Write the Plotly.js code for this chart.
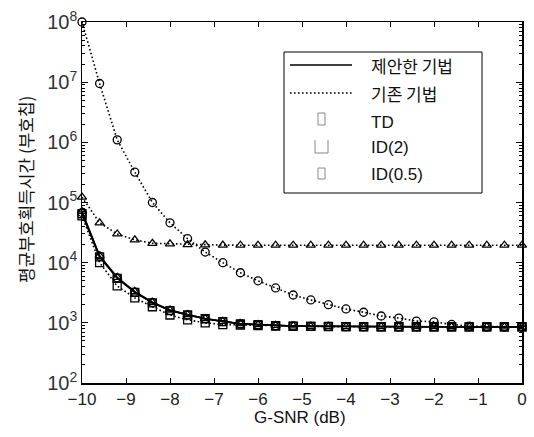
<!DOCTYPE html>
<html>
<head>
<meta charset="utf-8">
<script src="https://cdn.plot.ly/plotly-3.0.1.min.js"></script>
<style>html,body{margin:0;padding:0;background:#fff;}#chart{width:534px;height:437px;}</style>
</head>
<body>
<div id="chart"></div>
<script>
// G-SNR (dB)
const snr = [-10, -9.6, -9.2, -8.8, -8.4, -8.0, -7.6, -7.2, -6.8, -6.4, -6.0, -5.6, -5.2,
             -4.8, -4.4, -4.0, -3.6, -3.2, -2.8, -2.4, -2.0, -1.6, -1.2, -0.8, -0.4, 0];

// 제안한 기법 (proposed, solid)
const propTD   = [6.5e4, 1.25e4, 5.5e3, 3.2e3, 2.15e3, 1.6e3, 1.35e3, 1.17e3, 1.05e3, 960, 930, 900, 885,
                  875, 870, 865, 862, 860, 860, 860, 860, 860, 858, 858, 856, 855];
const propID2  = [7.1e4, 1.3e4, 5.7e3, 3.3e3, 2.2e3, 1.63e3, 1.37e3, 1.18e3, 1.06e3, 970, 935, 905, 888,
                  878, 872, 868, 864, 862, 862, 862, 862, 860, 860, 858, 858, 856];
const propID05 = [6.8e4, 1.28e4, 5.6e3, 3.25e3, 2.18e3, 1.61e3, 1.36e3, 1.17e3, 1.05e3, 965, 932, 902, 886,
                  876, 870, 866, 863, 861, 861, 861, 861, 860, 859, 858, 857, 856];

// 기존 기법 (conventional, dotted)
const convTD   = [6.0e4, 1.0e4, 4.1e3, 2.6e3, 1.85e3, 1.35e3, 1.12e3, 1.0e3, 935, 920, 900, 885, 875,
                  870, 866, 863, 861, 860, 860, 860, 860, 860, 858, 858, 856, 855];
const convID2  = [1.23e5, 4.6e4, 3.0e4, 2.4e4, 2.1e4, 2.05e4, 2.0e4, 1.98e4, 1.96e4, 1.95e4, 1.95e4, 1.95e4, 1.95e4,
                  1.95e4, 1.95e4, 1.95e4, 1.95e4, 1.95e4, 1.95e4, 1.95e4, 1.95e4, 1.95e4, 1.95e4, 1.95e4, 1.95e4, 1.95e4];
const convID05 = [1.0e8, 9.5e6, 1.1e6, 3.2e5, 1.0e5, 4.6e4, 2.5e4, 1.5e4, 1.0e4, 6.8e3, 5.0e3, 3.8e3, 2.9e3,
                  2.4e3, 2.0e3, 1.7e3, 1.5e3, 1.3e3, 1.2e3, 1.07e3, 1.04e3, 940, 880, 865, 860, 858];

const legendLabels = ['제안한 기법', '기존 기법', 'TD', 'ID(2)', 'ID(0.5)'];
const xTitle = 'G-SNR (dB)';
const yTitle = '평균부호획득시간 (부호칩)';

const DOT = '1.6px,2.4px';
function tr(y, dash, sym) {
  return {
    x: snr, y: y, type: 'scatter', mode: 'lines+markers', cliponaxis: false, showlegend: false,
    line: {color: '#000', width: 1.6, dash: dash},
    marker: {symbol: sym, size: 8, color: '#000', line: {color: '#000', width: 1.3}}
  };
}
const data = [
  tr(convID2, DOT, 'triangle-up-open'),
  tr(convID05, DOT, 'circle-open'),
  tr(convTD, DOT, 'square-open'),
  tr(propID2, 'solid', 'triangle-up-open'),
  tr(propID05, 'solid', 'circle-open'),
  tr(propTD, 'solid', 'square-open')
];

// pixel -> paper helpers for the legend box
const L = 82, R = 522, T = 22, B = 383;
const px = v => (v - L) / (R - L);
const py = v => (B - v) / (B - T);

const shapes = [
  {type: 'rect', xref: 'paper', yref: 'paper', x0: px(284), x1: px(482), y0: py(52), y1: py(193),
   line: {color: '#000', width: 1}, fillcolor: '#fff', layer: 'above'},
  {type: 'line', xref: 'paper', yref: 'paper', x0: px(290), x1: px(352), y0: py(65), y1: py(65),
   line: {color: '#000', width: 1.5}},
  {type: 'line', xref: 'paper', yref: 'paper', x0: px(290), x1: px(352), y0: py(93), y1: py(93),
   line: {color: '#000', width: 1.6, dash: DOT}},
  {type: 'rect', xref: 'paper', yref: 'paper', x0: px(318), x1: px(325), y0: py(113), y1: py(125),
   line: {color: '#888', width: 1}},
  {type: 'path', xref: 'paper', yref: 'paper',
   path: 'M ' + px(315) + ' ' + py(140) + ' L ' + px(315) + ' ' + py(153) + ' L ' + px(328) + ' ' + py(153) + ' L ' + px(328) + ' ' + py(140),
   line: {color: '#888', width: 1}},
  {type: 'rect', xref: 'paper', yref: 'paper', x0: px(318), x1: px(325), y0: py(168), y1: py(179),
   line: {color: '#888', width: 1}}
];
const rowY = [65, 93, 122, 147, 175];
const annotations = legendLabels.map((t, i) => ({
  xref: 'paper', yref: 'paper', x: px(369), y: py(rowY[i]), xanchor: 'left', yanchor: 'middle',
  text: t, showarrow: false,
  font: {family: i < 2 ? '"Noto Sans CJK KR", sans-serif' : '"Liberation Sans", Arial, sans-serif',
         size: 17, color: '#111'}
}));
annotations.push({
  xref: 'paper', yref: 'paper', x: px(300), y: py(417), xanchor: 'center', yanchor: 'middle',
  text: xTitle, showarrow: false, font: {family: '"Liberation Sans", Arial, sans-serif', size: 17, color: '#111'}
});
annotations.push({
  xref: 'paper', yref: 'paper', x: px(25), y: py(190), xanchor: 'center', yanchor: 'middle', textangle: -90,
  text: yTitle, showarrow: false, font: {family: '"Noto Sans CJK KR", sans-serif', size: 17, color: '#111'}
});

const layout = {
  width: 534, height: 437,
  margin: {l: L, r: 534 - R, t: T, b: 437 - B},
  paper_bgcolor: '#fff', plot_bgcolor: '#fff',
  showlegend: false,
  font: {family: '"Liberation Sans", Arial, sans-serif', size: 16, color: '#222'},
  xaxis: {
    range: [-10, 0], dtick: 1, tick0: 0, showgrid: false, zeroline: false,
    showline: true, linecolor: '#000', linewidth: 1.5, mirror: 'ticks',
    ticks: 'inside', ticklen: 5, tickcolor: '#000', tickwidth: 1,
    tickfont: {size: 17, color: '#222'}
  },
  yaxis: {
    type: 'log', range: [2, 8], dtick: 1, exponentformat: 'power', showexponent: 'all',
    showgrid: false, zeroline: false,
    showline: true, linecolor: '#000', linewidth: 1.5, mirror: 'ticks',
    ticks: 'inside', ticklen: 6, tickcolor: '#000', tickwidth: 1,
    tickfont: {size: 16, color: '#333'},
    minor: {ticks: 'inside', ticklen: 3, dtick: 'D1', tickcolor: '#000', tickwidth: 1, showgrid: false}
  },
  shapes: shapes,
  annotations: annotations
};

Plotly.newPlot('chart', data, layout, {staticPlot: true, displayModeBar: false});
</script>
</body>
</html>
